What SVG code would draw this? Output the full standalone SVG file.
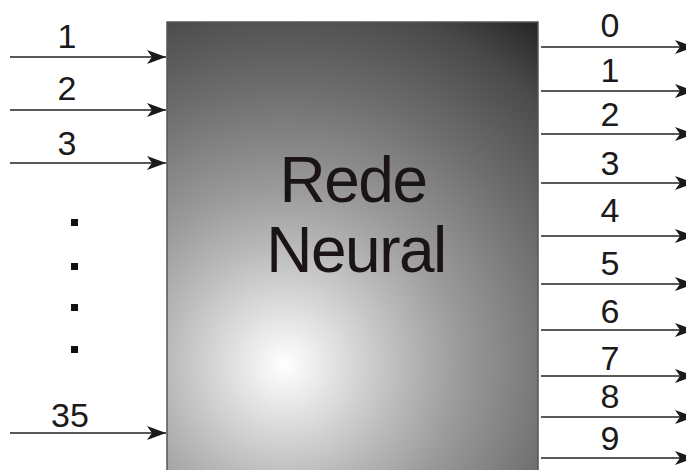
<svg xmlns="http://www.w3.org/2000/svg" width="686" height="470" viewBox="0 0 686 470">
<style>
.lbl{font-family:"Liberation Sans",Arial,sans-serif;font-size:34px;fill:#1a1a1a;text-anchor:middle}
.big{font-family:"Liberation Sans",Arial,sans-serif;font-size:64px;fill:#1a1414;text-anchor:middle;letter-spacing:-1.5px}
.ar{stroke:#222;stroke-width:1.5;fill:none;marker-end:url(#ah)}
.dot{fill:#111}
</style>
<defs>
<marker id="ah" markerUnits="userSpaceOnUse" markerWidth="20" markerHeight="14" refX="19" refY="7" orient="auto">
<path d="M0,0 L19,7 L0,14 L5,7 Z" fill="#1a1a1a"/>
</marker>
<radialGradient id="g" gradientUnits="userSpaceOnUse" cx="285" cy="365" r="430">
<stop offset="0" stop-color="#ffffff"/>
<stop offset="0.28" stop-color="#b8b8b8"/>
<stop offset="0.41" stop-color="#9a9a9a"/>
<stop offset="0.64" stop-color="#6e6e6e"/>
<stop offset="0.85" stop-color="#4a4a4a"/>
<stop offset="1" stop-color="#222222"/>
</radialGradient>
</defs>
<g id="rede">
<rect x="167" y="22" width="371" height="452" fill="url(#g)" stroke="#555" stroke-width="1.5"/>
<text class="big" x="353" y="202">Rede</text>
<text class="big" x="356" y="272">Neural</text>
</g>
<g id="inputs">
<text class="lbl" x="67" y="48">1</text>
<text class="lbl" x="67" y="100">2</text>
<text class="lbl" x="67" y="155">3</text>
<text class="lbl" x="70" y="427">35</text>
<rect class="dot" x="71" y="219" width="7" height="7"/>
<rect class="dot" x="71" y="263" width="7" height="7"/>
<rect class="dot" x="71" y="304" width="7" height="7"/>
<rect class="dot" x="71" y="346" width="7" height="7"/>
</g>
<g id="outputs">
<text class="lbl" x="610" y="37">0</text>
<text class="lbl" x="610" y="82">1</text>
<text class="lbl" x="610" y="126">2</text>
<text class="lbl" x="610" y="175">3</text>
<text class="lbl" x="610" y="222">4</text>
<text class="lbl" x="610" y="275">5</text>
<text class="lbl" x="610" y="323">6</text>
<text class="lbl" x="610" y="370">7</text>
<text class="lbl" x="610" y="408">8</text>
<text class="lbl" x="610" y="450">9</text>
</g>
<g id="connectors">
<line class="ar" x1="10" y1="57" x2="166" y2="57"/>
<line class="ar" x1="10" y1="110" x2="166" y2="110"/>
<line class="ar" x1="10" y1="163" x2="166" y2="163"/>
<line class="ar" x1="10" y1="433" x2="166" y2="433"/>
<line class="ar" x1="541" y1="47" x2="694" y2="47"/>
<line class="ar" x1="541" y1="91" x2="694" y2="91"/>
<line class="ar" x1="541" y1="134" x2="694" y2="134"/>
<line class="ar" x1="541" y1="183" x2="694" y2="183"/>
<line class="ar" x1="541" y1="236" x2="694" y2="236"/>
<line class="ar" x1="541" y1="284" x2="694" y2="284"/>
<line class="ar" x1="541" y1="330" x2="694" y2="330"/>
<line class="ar" x1="541" y1="376" x2="694" y2="376"/>
<line class="ar" x1="541" y1="417" x2="694" y2="417"/>
<line class="ar" x1="541" y1="458" x2="694" y2="458"/>
</g>
</svg>
